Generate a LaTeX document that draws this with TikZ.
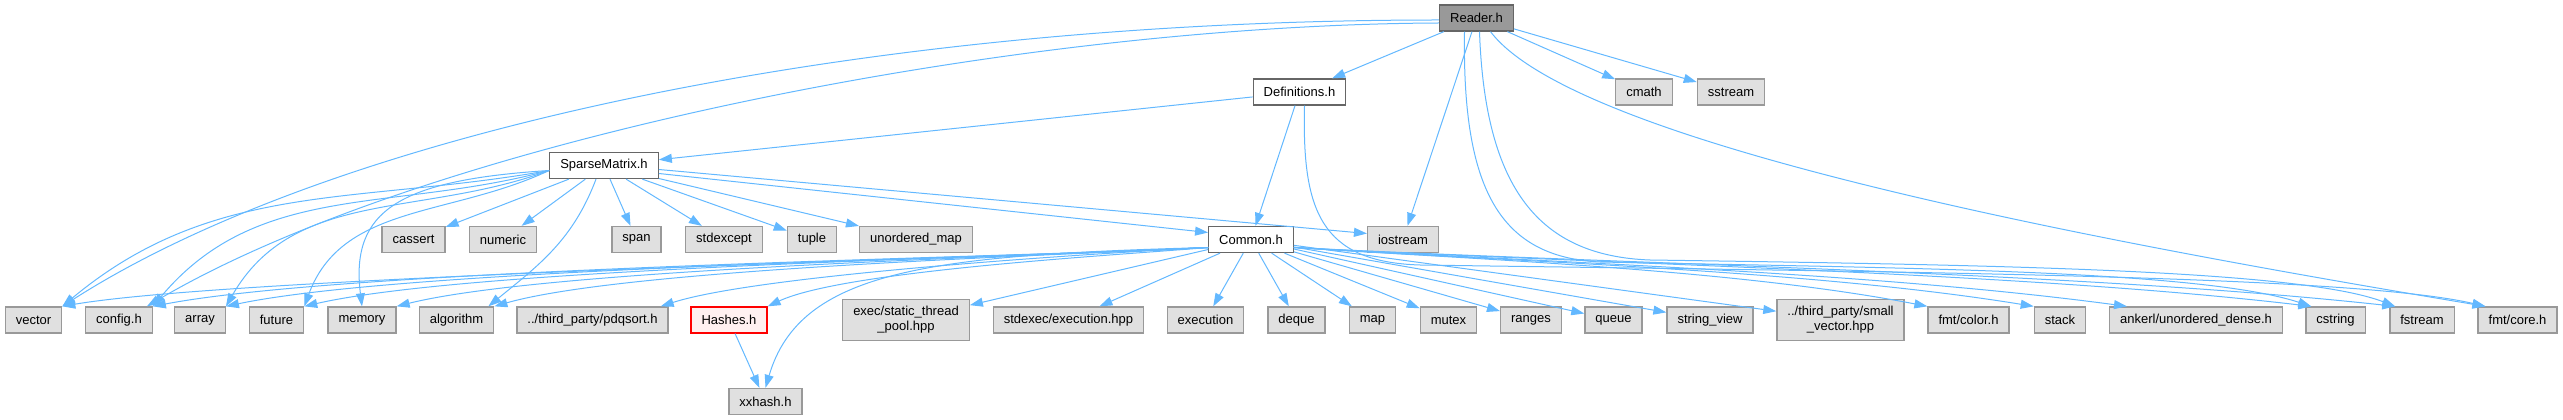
\documentclass[tikz,border=0pt]{standalone}
\usepackage{fontspec}
\setmainfont{Liberation Sans}
\usepackage{tikz}
\usetikzlibrary{arrows.meta}
\definecolor{edge}{HTML}{63B8FF}
\definecolor{sysfill}{HTML}{E0E0E0}
\definecolor{sysline}{HTML}{999999}
\definecolor{rootfill}{HTML}{999999}
\definecolor{boxline}{HTML}{666666}
\definecolor{truncfill}{HTML}{FFF0F0}
\tikzset{
  file/.style={draw,rectangle,line width=1.3pt,align=center,inner xsep=10.5pt,inner ysep=0pt,
    minimum height=26pt,font=\fontsize{13}{15}\selectfont},
  syshdr/.style={file,draw=sysline,fill=sysfill},
  localhdr/.style={file,draw=boxline,fill=white},
  roothdr/.style={file,draw=boxline,fill=rootfill},
  trunchdr/.style={file,draw=red,fill=truncfill},
  twoline/.style={minimum height=41pt},
  dep/.style={-{Triangle[length=13pt,width=9pt]},draw=edge,line width=1pt}
}

\begin{document}
\begin{tikzpicture}[x=1pt,y=1pt]
        \useasboundingbox (0,0) rectangle (2563,420);
        \node[roothdr] (reader) at (1476.5,402) {Reader.h};
        \node[localhdr] (defs) at (1299.5,328) {Definitions.h};
        \node[syshdr] (cmath) at (1644,328) {cmath};
        \node[syshdr] (sstream) at (1731,328) {sstream};
        \node[localhdr] (sparse) at (604,254.5) {SparseMatrix.h};
        \node[syshdr] (cassert) at (413.5,180.5) {cassert};
        \node[syshdr] (numeric) at (503,180.5) {numeric};
        \node[syshdr] (span) at (636.5,180.5) {span};
        \node[syshdr] (stdexcept) at (724,180.5) {stdexcept};
        \node[syshdr] (tuple) at (812,180.5) {tuple};
        \node[syshdr] (umap) at (916,180.5) {unordered\_map};
        \node[localhdr] (common) at (1251,180.5) {Common.h};
        \node[syshdr] (iostream) at (1403,180.5) {iostream};
        \node[syshdr] (vector) at (33.5,100) {vector};
        \node[syshdr] (config) at (119,100) {config.h};
        \node[syshdr] (array) at (200,100) {array};
        \node[syshdr] (future) at (276.5,100) {future};
        \node[syshdr] (memory) at (362,100) {memory};
        \node[syshdr] (algorithm) at (456.5,100) {algorithm};
        \node[syshdr] (pdqsort) at (592.5,100) {../third\_party/pdqsort.h};
        \node[trunchdr] (hashes) at (729,100) {Hashes.h};
        \node[syshdr,twoline] (execpool) at (906,100) {exec/static\_thread\\\_pool.hpp};
        \node[syshdr] (stdexec) at (1068.5,100) {stdexec/execution.hpp};
        \node[syshdr] (execution) at (1205.5,100) {execution};
        \node[syshdr] (deque) at (1296.5,100) {deque};
        \node[syshdr] (map) at (1372.5,100) {map};
        \node[syshdr] (mutex) at (1448.5,100) {mutex};
        \node[syshdr] (ranges) at (1531,100) {ranges};
        \node[syshdr] (queue) at (1613.5,100) {queue};
        \node[syshdr] (strview) at (1710,100) {string\_view};
        \node[syshdr,twoline] (smallvec) at (1840.5,100) {../third\_party/small\\\_vector.hpp};
        \node[syshdr] (fcolor) at (1968.5,100) {fmt/color.h};
        \node[syshdr] (stack) at (2060,100) {stack};
        \node[syshdr] (ankerl) at (2196,100) {ankerl/unordered\_dense.h};
        \node[syshdr] (cstring) at (2335.5,100) {cstring};
        \node[syshdr] (fstream) at (2422,100) {fstream};
        \node[syshdr] (fcore) at (2517.5,100) {fmt/core.h};
        \node[syshdr] (xxhash) at (765.5,18.5) {xxhash.h};
        \draw[dep] (reader) -- (defs);
        \draw[dep] (reader) -- (cmath);
        \draw[dep] (reader) -- (sstream);
        \draw[dep] (reader) -- (iostream);
        \draw[dep] ([yshift=-2pt]reader.west) .. controls (850,400) and (330,285) .. (vector.north east);
        \draw[dep] ([yshift=-5pt]reader.west) .. controls (1000,395) and (420,275) .. ([xshift=-6pt]config.north east);
        \draw[dep] ([xshift=-12pt]reader.south) .. controls (1462,230) and (1500,163) .. (1600,158) .. controls (1900,152) and (2200,150) .. ([xshift=6pt]cstring.north west);
        \draw[dep] ([xshift=3pt]reader.south) .. controls (1485,230) and (1540,164) .. (1650,160) .. controls (2000,155) and (2300,150) .. ([xshift=6pt]fstream.north west);
        \draw[dep] ([xshift=14pt]reader.south) .. controls (1580,270) and (2150,170) .. ([xshift=8pt]fcore.north west);
        \draw[dep] (defs) -- (sparse);
        \draw[dep] (defs) -- (common);
        \draw[dep] ([xshift=5pt]defs.south) .. controls (1302,210) and (1320,158) .. (1420,155) .. controls (1900,148) and (2350,145) .. ([xshift=8pt]fcore.north west);
        \draw[dep] ([yshift=-5pt]sparse.west) .. controls (355,215) and (214,240) .. (vector.north east);
        \draw[dep] ([yshift=-5pt]sparse.west) .. controls (391,207) and (258,239) .. (config.north east);
        \draw[dep] ([yshift=-5pt]sparse.west) .. controls (420,202) and (294,232) .. (array.north east);
        \draw[dep] ([yshift=-5pt]sparse.west) .. controls (450,203) and (342,216) .. (future.north east);
        \draw[dep] ([yshift=-5pt]sparse.west) .. controls (400,240) and (350,210) .. (memory.north);
        \draw[dep] ([xshift=-8pt]sparse.south) .. controls (573,180) and (539,155) .. ([xshift=-6pt]algorithm.north east);
        \draw[dep] (sparse) -- (cassert);
        \draw[dep] (sparse) -- (numeric);
        \draw[dep] (sparse) -- (span);
        \draw[dep] (sparse) -- (stdexcept);
        \draw[dep] (sparse) -- (tuple);
        \draw[dep] (sparse) -- (umap);
        \draw[dep] ([yshift=-8pt]sparse.east) -- ([yshift=7pt]common.west);
        \draw[dep] ([yshift=-4pt]sparse.east) -- ([yshift=6pt]iostream.west);
        \draw[dep] ([yshift=-8pt]common.west) .. controls (1030,163) and (240,144) .. (vector.north east);
        \draw[dep] ([yshift=-8pt]common.west) .. controls (1002,162) and (355,152) .. (config.north east);
        \draw[dep] ([yshift=-8pt]common.west) .. controls (1016,162) and (414,153) .. (array.north east);
        \draw[dep] ([yshift=-8pt]common.west) .. controls (1032,163) and (476,153) .. (future.north east);
        \draw[dep] ([yshift=-8pt]common.west) .. controls (1049,164) and (551,152) .. (memory.north east);
        \draw[dep] ([yshift=-8pt]common.west) .. controls (1069,165) and (629,152) .. (algorithm.north east);
        \draw[dep] ([yshift=-8pt]common.west) .. controls (1101,167) and (762,146) .. ([xshift=-8pt]pdqsort.north east);
        \draw[dep] ([yshift=-8pt]common.west) .. controls (1122,165) and (846,150) .. (hashes.north east);
        \draw[dep] ([yshift=-8pt]common.west) .. controls (930,165) and (800,150) .. (xxhash.north);
        \draw[dep] (hashes) -- (xxhash);
        \draw[dep] (common) -- (execpool);
        \draw[dep] (common) -- (stdexec);
        \draw[dep] (common) -- (execution);
        \draw[dep] (common) -- (deque);
        \draw[dep] (common) -- (map);
        \draw[dep] (common) -- (mutex);
        \draw[dep] (common) -- (ranges);
        \draw[dep] (common) -- (queue);
        \draw[dep] (common) -- (strview);
        \draw[dep] (common) -- (smallvec);
        \draw[dep] ([yshift=-8pt]common.east) .. controls (1490,160) and (1740,150) .. (fcolor.north west);
        \draw[dep] ([yshift=-8pt]common.east) .. controls (1520,158) and (1810,150) .. (stack.north west);
        \draw[dep] ([yshift=-8pt]common.east) .. controls (1560,157) and (1870,148) .. ([xshift=18pt]ankerl.north west);
        \draw[dep] ([yshift=-8pt]common.east) .. controls (1600,156) and (2020,148) .. ([xshift=6pt]cstring.north west);
        \draw[dep] ([yshift=-8pt]common.east) .. controls (1620,156) and (2080,148) .. ([xshift=6pt]fstream.north west);
      \end{tikzpicture}
\end{document}
